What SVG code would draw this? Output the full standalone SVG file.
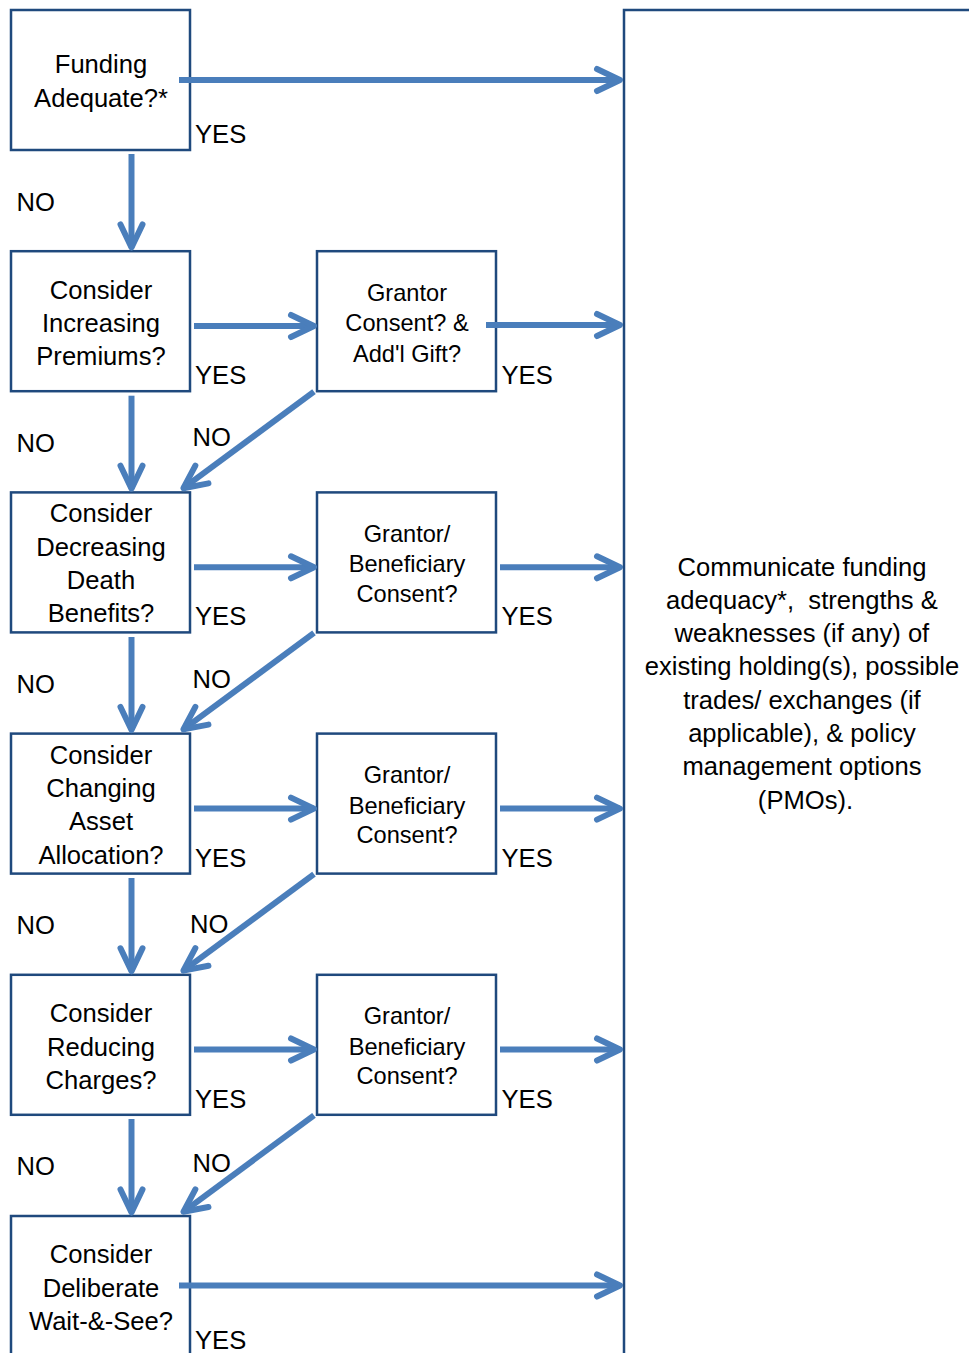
<svg xmlns="http://www.w3.org/2000/svg" width="969" height="1353" viewBox="0 0 969 1353">
  <style>
    .box { fill: #FFFFFF; stroke: #1F497D; stroke-width: 2.5; }
    .t { font-family: "Liberation Sans", Arial, sans-serif; font-size: 25.6px; fill: #000000; text-anchor: middle; }
    .tm { font-family: "Liberation Sans", Arial, sans-serif; font-size: 23.6px; fill: #000000; text-anchor: middle; }
    .lbl { font-family: "Liberation Sans", Arial, sans-serif; font-size: 25.6px; fill: #000000; }
    .arrow { fill: none; stroke: #4A7EBB; stroke-width: 6; stroke-linecap: butt; marker-end: url(#head); }
  </style>
  <defs>
    <marker id="head" markerUnits="userSpaceOnUse" viewBox="-32 -20 40 40" markerWidth="40" markerHeight="40" refX="0" refY="0" orient="auto" overflow="visible">
      <path d="M-23,-11 L0,0 L-23,11" fill="none" stroke="#4A7EBB" stroke-width="6" stroke-linecap="round" stroke-linejoin="round"/>
    </marker>
  </defs>
  <rect width="969" height="1353" fill="#FFFFFF"/>

  <!-- outcome panel (runs off the right and bottom edges) -->
  <g id="communicate">
    <rect class="box" x="624" y="10" width="380" height="1380"/>
    <text class="t">
      <tspan x="805.5" y="576">Communicate funding</tspan>
      <tspan x="805.5" y="609.3" style="white-space:pre">adequacy*,  strengths &amp;</tspan>
      <tspan x="805.5" y="642">weaknesses (if any) of</tspan>
      <tspan x="805.5" y="675.3">existing holding(s), possible</tspan>
      <tspan x="805.5" y="708.6">trades/ exchanges (if</tspan>
      <tspan x="805.5" y="742">applicable), &amp; policy</tspan>
      <tspan x="805.5" y="775.3">management options</tspan>
      <tspan x="805.5" y="808.6">(PMOs).</tspan>
    </text>
  </g>

  <!-- decision column -->
  <g id="funding-adequate">
    <rect class="box" x="11" y="10" width="179" height="140"/>
    <text class="t"><tspan x="101" y="73">Funding</tspan><tspan x="101" y="107">Adequate?*</tspan></text>
  </g>
  <g id="increase-premiums">
    <rect class="box" x="11" y="251.2" width="179" height="140"/>
    <text class="t"><tspan x="101" y="299">Consider</tspan><tspan x="101" y="332">Increasing</tspan><tspan x="101" y="365">Premiums?</tspan></text>
  </g>
  <g id="decrease-death-benefits">
    <rect class="box" x="11" y="492.4" width="179" height="140"/>
    <text class="t"><tspan x="101" y="522.3">Consider</tspan><tspan x="101" y="555.6">Decreasing</tspan><tspan x="101" y="589">Death</tspan><tspan x="101" y="622">Benefits?</tspan></text>
  </g>
  <g id="change-allocation">
    <rect class="box" x="11" y="733.6" width="179" height="140"/>
    <text class="t"><tspan x="101" y="764">Consider</tspan><tspan x="101" y="797">Changing</tspan><tspan x="101" y="830">Asset</tspan><tspan x="101" y="864">Allocation?</tspan></text>
  </g>
  <g id="reduce-charges">
    <rect class="box" x="11" y="974.8" width="179" height="140"/>
    <text class="t"><tspan x="101" y="1022.3">Consider</tspan><tspan x="101" y="1056">Reducing</tspan><tspan x="101" y="1088.5">Charges?</tspan></text>
  </g>
  <g id="wait-and-see">
    <rect class="box" x="11" y="1216" width="179" height="160"/>
    <text class="t"><tspan x="101" y="1263.3">Consider</tspan><tspan x="101" y="1296.7">Deliberate</tspan><tspan x="101" y="1330">Wait-&amp;-See?</tspan></text>
  </g>

  <!-- consent column -->
  <g id="grantor-gift">
    <rect class="box" x="317" y="251.2" width="179" height="140"/>
    <text class="tm"><tspan x="407" y="301">Grantor</tspan><tspan x="407" y="331">Consent? &amp;</tspan><tspan x="407" y="361.5">Add'l Gift?</tspan></text>
  </g>
  <g id="consent-benefits">
    <rect class="box" x="317" y="492.4" width="179" height="140"/>
    <text class="tm"><tspan x="407" y="541.7">Grantor/</tspan><tspan x="407" y="572.3">Beneficiary</tspan><tspan x="407" y="601.7">Consent?</tspan></text>
  </g>
  <g id="consent-allocation">
    <rect class="box" x="317" y="733.6" width="179" height="140"/>
    <text class="tm"><tspan x="407" y="783">Grantor/</tspan><tspan x="407" y="813.5">Beneficiary</tspan><tspan x="407" y="843">Consent?</tspan></text>
  </g>
  <g id="consent-charges">
    <rect class="box" x="317" y="974.8" width="179" height="140"/>
    <text class="tm"><tspan x="407" y="1024.2">Grantor/</tspan><tspan x="407" y="1054.7">Beneficiary</tspan><tspan x="407" y="1084.2">Consent?</tspan></text>
  </g>

  <!-- connectors -->
  <g id="connectors">
    <path class="arrow" d="M179,80 H620"/>
    <path class="arrow" d="M131.5,154 V247.5"/>

    <path class="arrow" d="M194,326 H314"/>
    <path class="arrow" d="M486,325 H620"/>
    <path class="arrow" d="M131.5,395.7 V488.7"/>
    <path class="arrow" d="M314,391.7 L183.4,488.2"/>

    <path class="arrow" d="M194,567.3 H314"/>
    <path class="arrow" d="M500,567.3 H620"/>
    <path class="arrow" d="M131.5,637 V730"/>
    <path class="arrow" d="M314,632.9 L183.4,729.4"/>

    <path class="arrow" d="M194,808.6 H314"/>
    <path class="arrow" d="M500,808.6 H620"/>
    <path class="arrow" d="M131.5,878 V971.3"/>
    <path class="arrow" d="M314,874.1 L183.4,970.6"/>

    <path class="arrow" d="M194,1049.5 H314"/>
    <path class="arrow" d="M500,1049.5 H620"/>
    <path class="arrow" d="M131.5,1119 V1212.5"/>
    <path class="arrow" d="M314,1115.3 L183.4,1211.8"/>

    <path class="arrow" d="M179,1285.5 H620"/>
  </g>

  <!-- branch labels -->
  <g id="labels">
    <text class="lbl" x="195" y="143">YES</text>
    <text class="lbl" x="195" y="384.2">YES</text>
    <text class="lbl" x="195" y="625.4">YES</text>
    <text class="lbl" x="195" y="866.6">YES</text>
    <text class="lbl" x="195" y="1107.8">YES</text>
    <text class="lbl" x="195" y="1349">YES</text>

    <text class="lbl" x="501.5" y="384.2">YES</text>
    <text class="lbl" x="501.5" y="625.4">YES</text>
    <text class="lbl" x="501.5" y="866.6">YES</text>
    <text class="lbl" x="501.5" y="1107.8">YES</text>

    <text class="lbl" x="16.5" y="210.5">NO</text>
    <text class="lbl" x="16.5" y="451.7">NO</text>
    <text class="lbl" x="16.5" y="692.9">NO</text>
    <text class="lbl" x="16.5" y="934.1">NO</text>
    <text class="lbl" x="16.5" y="1175.3">NO</text>

    <text class="lbl" x="192.5" y="446">NO</text>
    <text class="lbl" x="192.5" y="688.3">NO</text>
    <text class="lbl" x="190" y="932.7">NO</text>
    <text class="lbl" x="192.5" y="1171.7">NO</text>
  </g>
</svg>
